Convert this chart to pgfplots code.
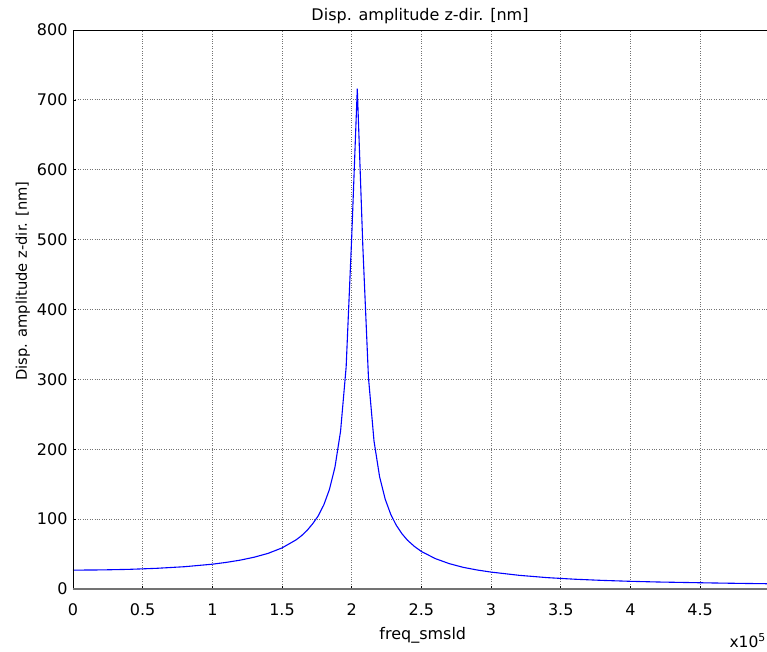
\documentclass[border=0pt]{standalone}
\usepackage{fontspec}
\setmainfont{DejaVu Sans}
\usepackage{pgfplots}
\pgfplotsset{compat=1.18}

% frequency (x1e5) vs displacement amplitude [nm]
\begin{document}
\begin{tikzpicture}
\begin{axis}[
    name=ax,
    scale only axis,
    width=694bp, height=559bp,
    xmin=0, xmax=4.98,
    ymin=0, ymax=800,
    xtick={0,0.5,...,4.5},
    ytick={0,100,...,800},
    tick pos=left,
    tick align=inside,
    major tick length=3bp,
    tick style={black, line width=0.6bp},
    grid=major,
    major grid style={dotted, black!55, line width=0.8bp},
    axis line style={draw=none},
    clip mode=individual,
    /pgf/number format/assume math mode=true,
    ticklabel style={font=\fontsize{16bp}{19bp}\selectfont},
    xticklabel style={anchor=base, yshift=-26bp},
    yticklabel style={anchor=east, xshift=-2bp},
]
\addplot[blue, line width=1.1bp] coordinates {
    (0.0,27.0) (0.2,27.3) (0.4,28.1) (0.6,29.6) (0.8,31.9)
    (1.0,35.5) (1.1,38.1) (1.2,41.3) (1.3,45.5) (1.4,51.0)
    (1.5,58.8) (1.6,70.2) (1.64,76.3) (1.68,83.9) (1.72,93.4)
    (1.76,104.7) (1.80,120.5) (1.84,142.4) (1.88,174.6) (1.92,225.8)
    (1.96,317.6) (2.00,503.9) (2.04,716.0) (2.08,489.2) (2.12,303.1)
    (2.16,211.7) (2.20,160.7) (2.24,128.7) (2.28,106.9) (2.32,91.1)
    (2.36,79.2) (2.40,69.8) (2.45,60.9) (2.5,53.7) (2.6,43.5)
    (2.7,36.3) (2.8,31.0) (2.9,27.2) (3.0,24.2) (3.2,19.6)
    (3.4,16.3) (3.6,14.0) (3.8,12.3) (4.0,11.0) (4.2,10.0)
    (4.4,9.3) (4.6,8.6) (4.8,8.0) (5.0,7.5)
};
% frame: left and top black, bottom grey
\draw[black, line width=0.8bp] (rel axis cs:0,0) -- (rel axis cs:0,1) -- (rel axis cs:1,1);
\draw[black!55, line width=2bp] (rel axis cs:0,0) -- (rel axis cs:1,0);
\node[anchor=base, font=\fontsize{16bp}{19bp}\selectfont] at ([yshift=9bp]rel axis cs:0.5,1) {Disp. amplitude z-dir. [nm]};
\node[anchor=base, font=\fontsize{16bp}{19bp}\selectfont] at ([yshift=-50bp]rel axis cs:0.504,0) {freq\_smsld};
\node[anchor=base, rotate=90, font=\fontsize{14.7bp}{18bp}\selectfont] at ([xshift=-46bp]rel axis cs:0,0.551) {Disp. amplitude z-dir. [nm]};
\node[anchor=base east, inner sep=0pt, font=\fontsize{15.5bp}{18bp}\selectfont] at ([xshift=-1bp,yshift=-58bp]rel axis cs:1,0) {x10\textsuperscript{5}};
\coordinate (bl) at ([xshift=-73bp,yshift=-63bp]rel axis cs:0,0);
\coordinate (tr) at ([yshift=30bp]rel axis cs:1,1);
\end{axis}
\pgfresetboundingbox
\path[use as bounding box] (bl) rectangle (tr);
\end{tikzpicture}
\end{document}
